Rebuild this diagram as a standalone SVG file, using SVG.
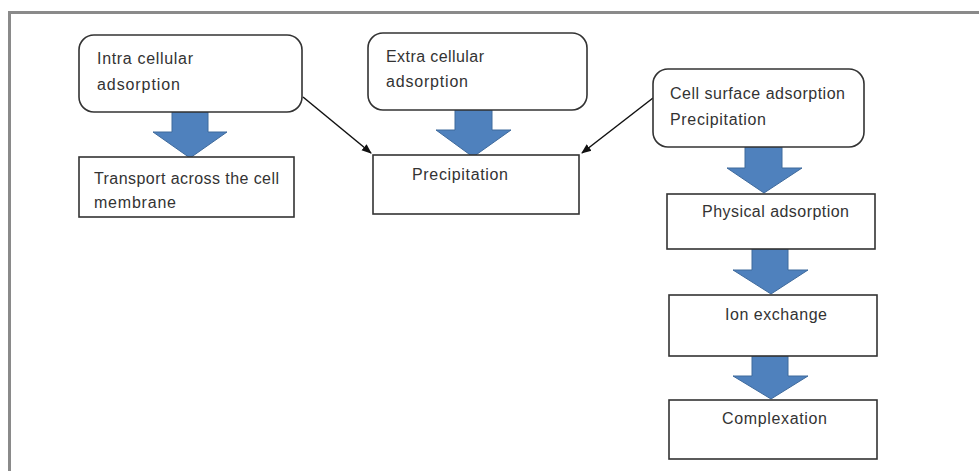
<svg xmlns="http://www.w3.org/2000/svg" width="979" height="471" viewBox="0 0 979 471">
<style>
.frame{fill:none;stroke:#8a8a8a;stroke-width:3}
.rbox{fill:#fff;stroke:#333;stroke-width:1.6}
.box{fill:#fff;stroke:#333;stroke-width:1.6}
.lbl{font-family:"Liberation Sans",Arial,sans-serif;font-size:16px;fill:#333}
.blk{fill:#4f81bd;stroke:#3f6a9c;stroke-width:1}
.con{stroke:#111;stroke-width:1.5;fill:none}
</style>
<defs>
<marker id="ah" markerWidth="10" markerHeight="10" refX="9" refY="5" orient="auto" markerUnits="userSpaceOnUse">
<path d="M0,1 L10,5 L0,9 Z" fill="#111"/>
</marker>
</defs>
<rect width="979" height="471" fill="#fff"/>
<path class="frame" d="M9.5,471 V12.5 H979"/>

<g id="connectors">
<line class="con" x1="303" y1="97" x2="371" y2="153" marker-end="url(#ah)"/>
<line class="con" x1="653" y1="98" x2="582" y2="153" marker-end="url(#ah)"/>
<path class="blk" d="M172,112 H208 V132 H227 L190,158 L153,132 H172 Z"/>
<path class="blk" d="M455,110 H492 V130 H511 L473,157 L436,130 H455 Z"/>
<path class="blk" d="M745,147 H782 V168 H802 L764,193 L727,168 H745 Z"/>
<path class="blk" d="M752,249 H788 V270 H808 L771,294 L733,270 H752 Z"/>
<path class="blk" d="M752,356 H788 V376 H808 L771,399 L733,376 H752 Z"/>
</g>

<g id="intra">
<rect class="rbox" x="79" y="35" width="223" height="77" rx="15"/>
<text class="lbl" x="97" y="64" textLength="96" lengthAdjust="spacing">Intra cellular</text>
<text class="lbl" x="97" y="90" textLength="83" lengthAdjust="spacing">adsorption</text>
</g>
<g id="transport">
<rect class="box" x="79" y="157" width="215" height="60"/>
<text class="lbl" x="94" y="184" textLength="185" lengthAdjust="spacing">Transport across the cell</text>
<text class="lbl" x="94" y="208" textLength="82" lengthAdjust="spacing">membrane</text>
</g>
<g id="extra">
<rect class="rbox" x="368" y="33" width="219" height="77" rx="15"/>
<text class="lbl" x="386" y="62" textLength="98" lengthAdjust="spacing">Extra cellular</text>
<text class="lbl" x="386" y="87" textLength="82" lengthAdjust="spacing">adsorption</text>
</g>
<g id="precip">
<rect class="box" x="373" y="155" width="206" height="59"/>
<text class="lbl" x="412" y="180" textLength="96" lengthAdjust="spacing">Precipitation</text>
</g>
<g id="surface">
<rect class="rbox" x="653" y="69" width="211" height="78" rx="15"/>
<text class="lbl" x="670" y="99" textLength="175" lengthAdjust="spacing">Cell surface adsorption</text>
<text class="lbl" x="670" y="125" textLength="96" lengthAdjust="spacing">Precipitation</text>
</g>
<g id="physical">
<rect class="box" x="667" y="194" width="208" height="55"/>
<text class="lbl" x="702" y="217" textLength="147" lengthAdjust="spacing">Physical adsorption</text>
</g>
<g id="ion">
<rect class="box" x="669" y="295" width="208" height="61"/>
<text class="lbl" x="725" y="320" textLength="102" lengthAdjust="spacing">Ion exchange</text>
</g>
<g id="complex">
<rect class="box" x="669" y="400" width="208" height="59"/>
<text class="lbl" x="722" y="424" textLength="105" lengthAdjust="spacing">Complexation</text>
</g>
</svg>
